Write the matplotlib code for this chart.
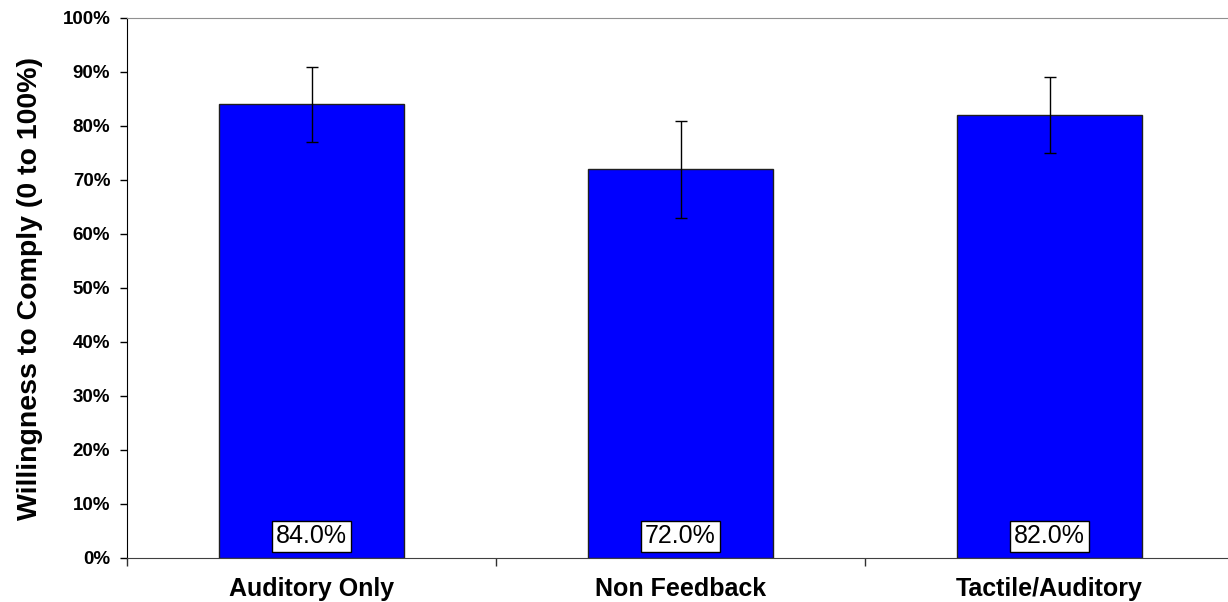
import numpy as np
import matplotlib.pyplot as plt

###########################################################
# data

categories = ['Auditory Only', 'Non Feedback', 'Tactile/Auditory']
comply_mean = [84.0, 72.0, 82.0]   # percent
comply_err = [7.0, 9.0, 7.0]       # percent
yticks = np.arange(0, 101, 10)

###########################################################
# plot

plt.rcParams['font.family'] = ['Liberation Sans', 'DejaVu Sans']

fig = plt.figure(figsize=(12.28, 6.02), dpi=100)
ax = fig.add_axes([127/1228, 44/602, 1101/1228, 540/602])

x = np.arange(len(categories))
ax.bar(x, comply_mean, width=0.5, color='#0000ff', edgecolor='#202020', linewidth=1, zorder=2)
ax.errorbar(x, comply_mean, yerr=comply_err, fmt='none', ecolor='black',
            elinewidth=1, capsize=4, capthick=1, zorder=3)

# value boxes at the foot of each bar
for xi, v in zip(x, comply_mean):
    ax.text(xi, 4, '%.1f%%' % v, ha='center', va='center', fontsize=18, color='black',
            bbox=dict(boxstyle='square,pad=0.15', facecolor='white', edgecolor='black', linewidth=1),
            zorder=4)

ax.set_xlim(-0.5, 1101/369 - 0.5)
ax.set_ylim(0, 100)

# y axis
ax.set_yticks(yticks)
ax.set_yticklabels(['%d%%' % t for t in yticks], fontsize=13.5, fontweight='bold')
ax.tick_params(axis='y', direction='out', length=5, width=1, pad=7)
ax.set_ylabel('Willingness to Comply (0 to 100%)', fontsize=20.5, fontweight='bold', labelpad=14)

# x axis: separators as major ticks, labels on minor ticks
ax.set_xticks([-0.5, 0.5, 1.5])
ax.set_xticklabels([])
ax.set_xticks(x, minor=True)
ax.set_xticklabels(categories, minor=True, fontsize=18, fontweight='bold')
ax.tick_params(axis='x', which='major', direction='out', length=6, width=1, color='#303030')
ax.tick_params(axis='x', which='minor', length=0, pad=14)

ax.spines['right'].set_visible(False)
ax.spines['top'].set_color('#909090')
ax.spines['bottom'].set_color('#404040')
ax.spines['left'].set_color('black')

plt.savefig('out.png', dpi=100)
